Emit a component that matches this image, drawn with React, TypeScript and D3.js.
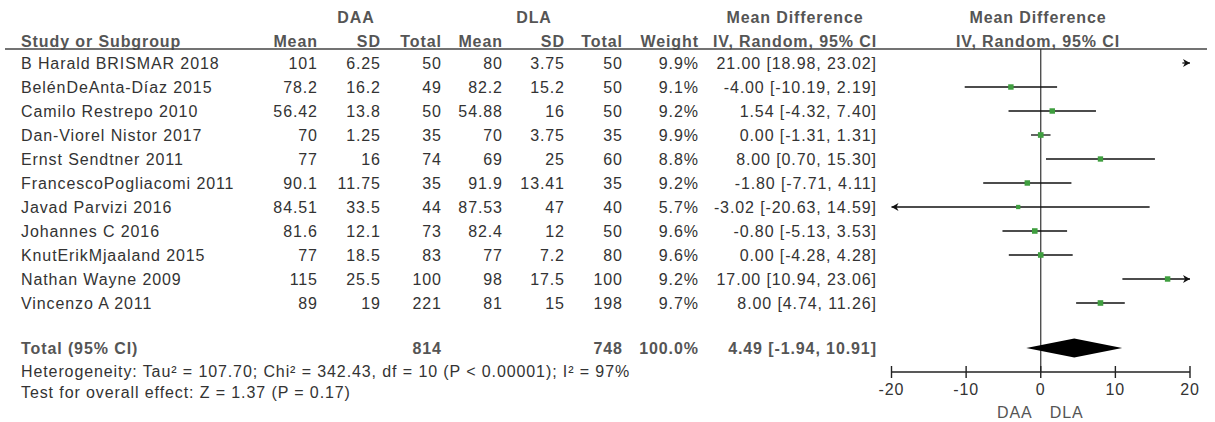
import React from "react";
import * as d3 from "d3";

const studies = [
  "B Harald BRISMAR 2018",
  "BelénDeAnta-Díaz 2015",
  "Camilo Restrepo 2010",
  "Dan-Viorel Nistor 2017",
  "Ernst Sendtner 2011",
  "FrancescoPogliacomi 2011",
  "Javad Parvizi 2016",
  "Johannes C 2016",
  "KnutErikMjaaland 2015",
  "Nathan Wayne 2009",
  "Vincenzo A 2011",
];
const daaMean = ["101", "78.2", "56.42", "70", "77", "90.1", "84.51", "81.6", "77", "115", "89"];
const daaSD = ["6.25", "16.2", "13.8", "1.25", "16", "11.75", "33.5", "12.1", "18.5", "25.5", "19"];
const daaN = [50, 49, 50, 35, 74, 35, 44, 73, 83, 100, 221];
const dlaMean = ["80", "82.2", "54.88", "70", "69", "91.9", "87.53", "82.4", "77", "98", "81"];
const dlaSD = ["3.75", "15.2", "16", "3.75", "25", "13.41", "47", "12", "7.2", "17.5", "15"];
const dlaN = [50, 50, 50, 35, 60, 35, 40, 50, 80, 100, 198];
const weights = [9.9, 9.1, 9.2, 9.9, 8.8, 9.2, 5.7, 9.6, 9.6, 9.2, 9.7];
const md = [21.0, -4.0, 1.54, 0.0, 8.0, -1.8, -3.02, -0.8, 0.0, 17.0, 8.0];
const lo = [18.98, -10.19, -4.32, -1.31, 0.7, -7.71, -20.63, -5.13, -4.28, 10.94, 4.74];
const hi = [23.02, 2.19, 7.4, 1.31, 15.3, 4.11, 14.59, 3.53, 4.28, 23.06, 11.26];
const total = { daaN: 814, dlaN: 748, weight: "100.0%", md: 4.49, lo: -1.94, hi: 10.91 };
const axisTicks = [-20, -10, 0, 10, 20];
const heterogeneity = "Heterogeneity: Tau² = 107.70; Chi² = 342.43, df = 10 (P < 0.00001); I² = 97%";
const overall = "Test for overall effect: Z = 1.37 (P = 0.17)";

const W = 1215;
const H = 422;
const FONT = "'Liberation Sans', Arial, sans-serif";
const FS = 16;
const LS = 0.9;
const HEAD = "#555";
const BODY = "#333";

const x = d3.scaleLinear().domain([-20, 20]).range([891.5, 1190]);
const rowY = (i: number) => 63 + i * 24;
const totalY = 348;
const axisY = 372;

const cols = {
  name: 21,
  daaMean: 317,
  daaSD: 380,
  daaN: 441,
  dlaMean: 502,
  dlaSD: 564,
  dlaN: 622,
  weight: 698,
  ci: 876,
};

const fmt = d3.format(".2f");
const ciText = (m: number, l: number, h: number) =>
  `${fmt(m)} [${fmt(l)}, ${fmt(h)}]`.replace(/\u2212/g, "-");

function T(props: any) {
  const { x, y, anchor = "start", bold = false, fill = BODY, children } = props;
  return (
    <text
      x={x + (anchor === "end" ? LS : 0)}
      y={y}
      dy="0.35em"
      textAnchor={anchor}
      fontWeight={bold ? "bold" : "normal"}
      fill={fill}
      fontSize={FS}
      fontFamily={FONT}
      letterSpacing={LS}
    >
      {children}
    </text>
  );
}

export default function App() {
  const [d0, d1] = x.domain();
  return (
    <svg
      width={W}
      height={H}
      style={{ position: "absolute", left: 0, top: 0, background: "#fff" }}
    >
      {/* headers */}
      <T x={356} y={17} anchor="middle" bold fill={HEAD}>DAA</T>
      <T x={534} y={17} anchor="middle" bold fill={HEAD}>DLA</T>
      <T x={795} y={17} anchor="middle" bold fill={HEAD}>Mean Difference</T>
      <T x={1038} y={17} anchor="middle" bold fill={HEAD}>Mean Difference</T>
      <T x={cols.name} y={41} bold fill={HEAD}>Study or Subgroup</T>
      <T x={cols.daaMean} y={41} anchor="end" bold fill={HEAD}>Mean</T>
      <T x={cols.daaSD} y={41} anchor="end" bold fill={HEAD}>SD</T>
      <T x={cols.daaN} y={41} anchor="end" bold fill={HEAD}>Total</T>
      <T x={cols.dlaMean} y={41} anchor="end" bold fill={HEAD}>Mean</T>
      <T x={cols.dlaSD} y={41} anchor="end" bold fill={HEAD}>SD</T>
      <T x={cols.dlaN} y={41} anchor="end" bold fill={HEAD}>Total</T>
      <T x={cols.weight} y={41} anchor="end" bold fill={HEAD}>Weight</T>
      <T x={795} y={41} anchor="middle" bold fill={HEAD}>IV, Random, 95% CI</T>
      <T x={1038} y={41} anchor="middle" bold fill={HEAD}>IV, Random, 95% CI</T>
      <line x1={5} x2={1207} y1={49} y2={49} stroke="#444" strokeWidth={1.5} />

      {/* rows */}
      {studies.map((s, i) => {
        const y = rowY(i);
        return (
          <g key={s}>
            <T x={cols.name} y={y}>{s}</T>
            <T x={cols.daaMean} y={y} anchor="end">{daaMean[i]}</T>
            <T x={cols.daaSD} y={y} anchor="end">{daaSD[i]}</T>
            <T x={cols.daaN} y={y} anchor="end">{daaN[i]}</T>
            <T x={cols.dlaMean} y={y} anchor="end">{dlaMean[i]}</T>
            <T x={cols.dlaSD} y={y} anchor="end">{dlaSD[i]}</T>
            <T x={cols.dlaN} y={y} anchor="end">{dlaN[i]}</T>
            <T x={cols.weight} y={y} anchor="end">{weights[i].toFixed(1)}%</T>
            <T x={cols.ci} y={y} anchor="end">{ciText(md[i], lo[i], hi[i])}</T>
          </g>
        );
      })}

      {/* total */}
      <T x={cols.name} y={totalY} bold fill={HEAD}>Total (95% CI)</T>
      <T x={cols.daaN} y={totalY} anchor="end" bold fill={HEAD}>{total.daaN}</T>
      <T x={cols.dlaN} y={totalY} anchor="end" bold fill={HEAD}>{total.dlaN}</T>
      <T x={cols.weight} y={totalY} anchor="end" bold fill={HEAD}>{total.weight}</T>
      <T x={cols.ci} y={totalY} anchor="end" bold fill={HEAD}>{ciText(total.md, total.lo, total.hi)}</T>
      <T x={cols.name} y={371}>{heterogeneity}</T>
      <T x={cols.name} y={392}>{overall}</T>

      {/* zero line */}
      <line x1={x(0)} x2={x(0)} y1={49} y2={axisY} stroke="#333" strokeWidth={1.2} />

      {/* study CIs */}
      {studies.map((s, i) => {
        const y = rowY(i);
        const l = Math.max(lo[i], d0);
        const h = Math.min(hi[i], d1);
        const arrowL = lo[i] < d0;
        const arrowR = hi[i] > d1;
        const sz = Math.sqrt(weights[i]) * 1.8;
        const inside = md[i] >= d0 && md[i] <= d1;
        return (
          <g key={"ci" + s}>
            <line x1={x(l)} x2={x(h)} y1={y} y2={y} stroke="#111" strokeWidth={1.3} />
            {arrowR && (
              <path
                d={`M${x(d1)},${y} L${x(d1) - 7},${y - 4} L${x(d1) - 5},${y} L${x(d1) - 7},${y + 4} Z`}
                fill="#111"
              />
            )}
            {arrowL && (
              <path
                d={`M${x(d0)},${y} L${x(d0) + 7},${y - 4} L${x(d0) + 5},${y} L${x(d0) + 7},${y + 4} Z`}
                fill="#111"
              />
            )}
            {inside && (
              <rect
                x={x(md[i]) - sz / 2}
                y={y - sz / 2}
                width={sz}
                height={sz}
                fill="#3f9e3f"
              />
            )}
          </g>
        );
      })}

      {/* diamond */}
      <path
        d={`M${x(total.lo)},${totalY} L${x(total.md)},${totalY - 9.5} L${x(total.hi)},${totalY} L${x(total.md)},${totalY + 9.5} Z`}
        fill="#000"
      />

      {/* axis */}
      <line x1={x(d0)} x2={x(d1)} y1={axisY} y2={axisY} stroke="#222" strokeWidth={1.4} />
      {axisTicks.map((t) => (
        <g key={t}>
          <line x1={x(t)} x2={x(t)} y1={axisY - 6} y2={axisY + 6} stroke="#222" strokeWidth={1.4} />
          <T x={x(t)} y={389} anchor="middle" fill="#333">{t}</T>
        </g>
      ))}
      <T x={x(0) - 9} y={412} anchor="end" fill="#555">DAA</T>
      <T x={x(0) + 9} y={412} anchor="start" fill="#555">DLA</T>
    </svg>
  );
}
